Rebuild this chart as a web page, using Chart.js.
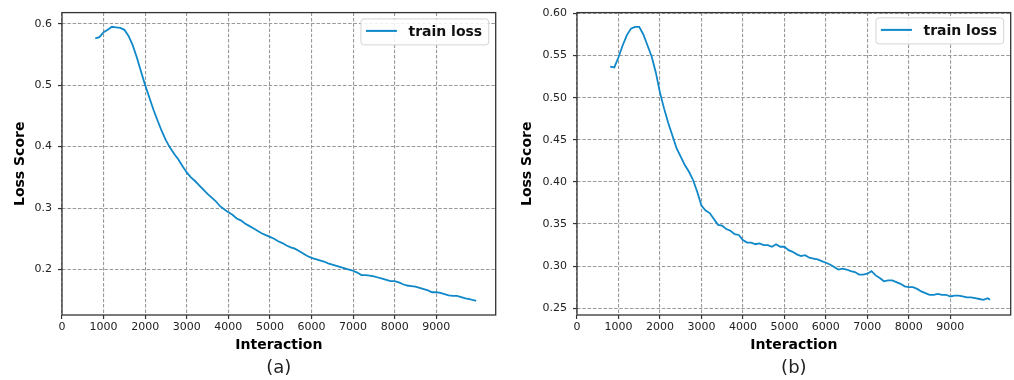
<!DOCTYPE html>
<html><head><meta charset="utf-8">
<script src="https://cdn.jsdelivr.net/npm/chart.js@4.4.1/dist/chart.umd.min.js"></script>
<style>
html,body{margin:0;padding:0;background:#fff;}
#wrap{position:relative;width:1014px;height:380px;overflow:hidden;}
canvas{position:absolute;top:0;}
</style></head><body>
<div id="wrap">
<canvas id="ca" width="507" height="380" style="left:0"></canvas>
<canvas id="cb" width="507" height="380" style="left:507px"></canvas>
</div>
<script>
const xTickValues = [0,1000,2000,3000,4000,5000,6000,7000,8000,9000];
const yTicksA = [0.2,0.3,0.4,0.5,0.6];
const yTicksB = [0.25,0.30,0.35,0.40,0.45,0.50,0.55,0.60];
const seriesLabel = 'train loss';
const captionA = '(a)';
const captionB = '(b)';
const xTitle = 'Interaction';
const yTitle = 'Loss Score';

const iterations = [800,900,1000,1100,1200,1300,1400,1500,1600,1700,1800,1900,2000,2100,2200,2300,2400,2500,2600,2700,2800,2900,3000,3100,3200,3300,3400,3500,3600,3700,3800,3900,4000,4100,4200,4300,4400,4500,4600,4700,4800,4900,5000,5100,5200,5300,5400,5500,5600,5700,5800,5900,6000,6100,6200,6300,6400,6500,6600,6700,6800,6900,7000,7100,7200,7300,7400,7500,7600,7700,7800,7900,8000,8100,8200,8300,8400,8500,8600,8700,8800,8900,9000,9100,9200,9300,9400,9500,9600,9700,9800,9900,9960];

const lossA = [0.576,0.578,0.586,0.590,0.595,0.594,0.593,0.590,0.580,0.565,0.545,0.522,0.500,0.480,0.460,0.442,0.425,0.410,0.398,0.388,0.379,0.368,0.358,0.350,0.344,0.337,0.330,0.323,0.317,0.311,0.303,0.298,0.293,0.289,0.283,0.280,0.275,0.271,0.267,0.263,0.259,0.256,0.253,0.250,0.246,0.243,0.239,0.236,0.234,0.230,0.226,0.222,0.219,0.217,0.215,0.213,0.210,0.208,0.206,0.204,0.202,0.200,0.198,0.195,0.191,0.191,0.190,0.189,0.187,0.185,0.183,0.181,0.181,0.179,0.176,0.174,0.173,0.172,0.170,0.168,0.166,0.163,0.163,0.162,0.160,0.158,0.157,0.157,0.155,0.153,0.152,0.150,0.149];

const lossB = [0.537,0.536,0.548,0.562,0.574,0.582,0.584,0.584,0.575,0.562,0.549,0.530,0.506,0.487,0.470,0.455,0.440,0.430,0.420,0.412,0.402,0.388,0.372,0.366,0.363,0.356,0.349,0.348,0.344,0.342,0.338,0.337,0.331,0.328,0.328,0.326,0.327,0.325,0.325,0.323,0.326,0.323,0.323,0.319,0.317,0.314,0.312,0.313,0.310,0.309,0.308,0.306,0.304,0.302,0.299,0.296,0.297,0.296,0.294,0.293,0.290,0.290,0.291,0.294,0.289,0.286,0.282,0.283,0.283,0.281,0.279,0.276,0.275,0.275,0.273,0.270,0.268,0.266,0.266,0.267,0.266,0.266,0.264,0.265,0.265,0.264,0.263,0.263,0.262,0.261,0.260,0.262,0.260];

const FAMILY = '"DejaVu Sans", "Liberation Sans", sans-serif';
const LINE_COLOR = '#0f88c9';
const GRID_COLOR = '#999999';

const deco = {
  id: 'deco',
  afterDraw(chart, args, opts) {
    const ctx = chart.ctx, a = chart.chartArea;
    ctx.save();
    ctx.setLineDash([]);
    ctx.strokeStyle = '#333';
    ctx.lineWidth = 1.3;
    ctx.strokeRect(a.left, a.top, a.right - a.left, a.bottom - a.top);
    const label = chart.data.datasets[0].label;
    ctx.font = 'bold 14px ' + FAMILY;
    const tw = ctx.measureText(label).width;
    const bw = 5 + 31 + 11.5 + tw + 6.5, bh = 26;
    const bx = a.right - 7 - bw, by = a.top + opts.legendTop;
    ctx.fillStyle = 'rgba(255,255,255,0.85)';
    ctx.strokeStyle = '#d4d4d4';
    ctx.lineWidth = 1;
    ctx.beginPath();
    ctx.roundRect(bx, by, bw, bh, 3);
    ctx.fill(); ctx.stroke();
    ctx.strokeStyle = LINE_COLOR; ctx.lineWidth = 2;
    ctx.beginPath(); ctx.moveTo(bx + 5, by + 12); ctx.lineTo(bx + 36, by + 12); ctx.stroke();
    ctx.fillStyle = '#111';
    ctx.textBaseline = 'middle'; ctx.textAlign = 'left';
    ctx.fillText(label, bx + 47.5, by + 13);
    ctx.font = '18px ' + FAMILY;
    ctx.textAlign = 'center';
    ctx.fillStyle = '#222';
    ctx.fillText(opts.caption, (a.left + a.right) / 2, 368);
    ctx.restore();
  }
};

function makeChart(id, losses, yTicks, yMin, yMax, xMax, decimals, caption, padRight, padTop, legendTop) {
  return new Chart(document.getElementById(id), {
    type: 'line',
    data: {
      datasets: [{
        label: seriesLabel,
        data: iterations.map((x, i) => ({x: x, y: losses[i]})),
        borderColor: LINE_COLOR,
        borderWidth: 1.8,
        pointRadius: 0,
        tension: 0,
        fill: false
      }]
    },
    plugins: [deco],
    options: {
      responsive: false,
      animation: false,
      devicePixelRatio: 1,
      layout: {padding: {left: 0, right: padRight, top: padTop, bottom: 0}},
      plugins: {
        legend: {display: false},
        tooltip: {enabled: false},
        deco: {caption: caption, legendTop: legendTop}
      },
      scales: {
        x: {
          type: 'linear', min: 0, max: xMax,
          afterBuildTicks: s => { s.ticks = xTickValues.map(v => ({value: v})); },
          afterFit: s => { s.height = 65; },
          ticks: {font: {family: FAMILY, size: 11}, color: '#222', padding: 2, maxRotation: 0, autoSkip: false,
                  callback: v => String(v)},
          grid: {color: GRID_COLOR, lineWidth: 1.1, tickLength: 4, tickColor: '#333', tickWidth: 1.2},
          border: {display: false, dash: [3.5, 1.8]},
          title: {display: true, text: xTitle, color: '#000',
                  font: {family: FAMILY, size: 14, weight: 'bold'}, padding: {top: 0, bottom: 26.6}}
        },
        y: {
          type: 'linear', min: yMin, max: yMax,
          afterBuildTicks: s => { s.ticks = yTicks.map(v => ({value: v})); },
          afterFit: s => { s.width = id === 'ca' ? 62 : 70; },
          ticks: {font: {family: FAMILY, size: 11}, color: '#222', padding: 6, autoSkip: false,
                  callback: v => Number(v).toFixed(decimals)},
          grid: {color: GRID_COLOR, lineWidth: 1.1, tickLength: 4, tickColor: '#333', tickWidth: 1.2},
          border: {display: false, dash: [3.5, 1.8]},
          title: {display: true, text: yTitle, color: '#000',
                  font: {family: FAMILY, size: 14, weight: 'bold'}, padding: {top: 11.6, bottom: 0}}
        }
      }
    }
  });
}

makeChart('ca', lossA, yTicksA, 0.126, 0.618, 10430, 1, captionA, 11.3, 11, 6.3);
makeChart('cb', lossB, yTicksB, 0.242, 0.601, 10456, 2, captionB, 3.3, 12, 5.3);
</script>
</body></html>
